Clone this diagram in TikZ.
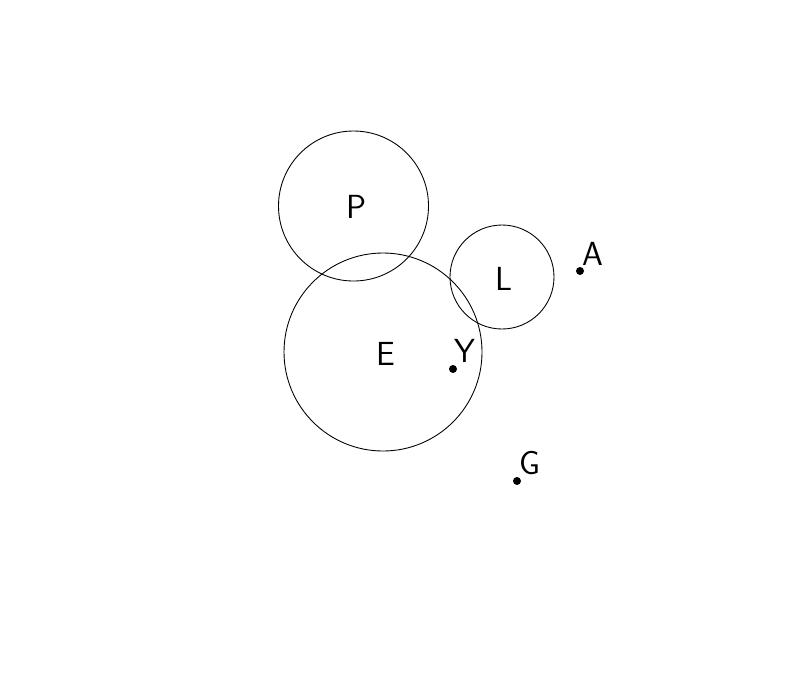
\documentclass[tikz,border=0pt]{standalone}
\usepackage{tikz}
\usetikzlibrary{positioning}

\tikzset{
  ring/.style={draw, circle, inner sep=0pt, line width=0.5pt},
  ptlabel/.style={font=\sffamily\fontsize{19}{19}\selectfont, inner sep=0pt},
  pt/.style={fill, circle, inner sep=0pt, minimum size=0.16cm}
}

\begin{document}
\begin{tikzpicture}[x=0.02cm, y=-0.02cm]
  % frame in pixel units, y down
  \useasboundingbox (0,0) rectangle (800,697);
  % circles: centre and radius
  \node[ring, minimum size={2*75*0.02cm}] (P) at (353.5,206) {};
  \node[ring, minimum size={2*99*0.02cm}] (E) at (383,352) {};
  \node[ring, minimum size={2*52*0.02cm}] (L) at (502,277) {};
  \node[ptlabel] (Ptext) at (357,207) {P};
  \node[ptlabel] (Etext) at (386,354) {E};
  \node[ptlabel] (Ltext) at (504,279) {L};
  % points
  \node[pt] (A) at (580,271) {};
  \node[pt] (Y) at (453,369) {};
  \node[pt] (G) at (517,481) {};
  \node[ptlabel] (Atext) at (593,254) {A};
  \node[ptlabel] (Ytext) at (465,351) {Y};
  \node[ptlabel] (Gtext) at (530,463) {G};
\end{tikzpicture}
\end{document}
